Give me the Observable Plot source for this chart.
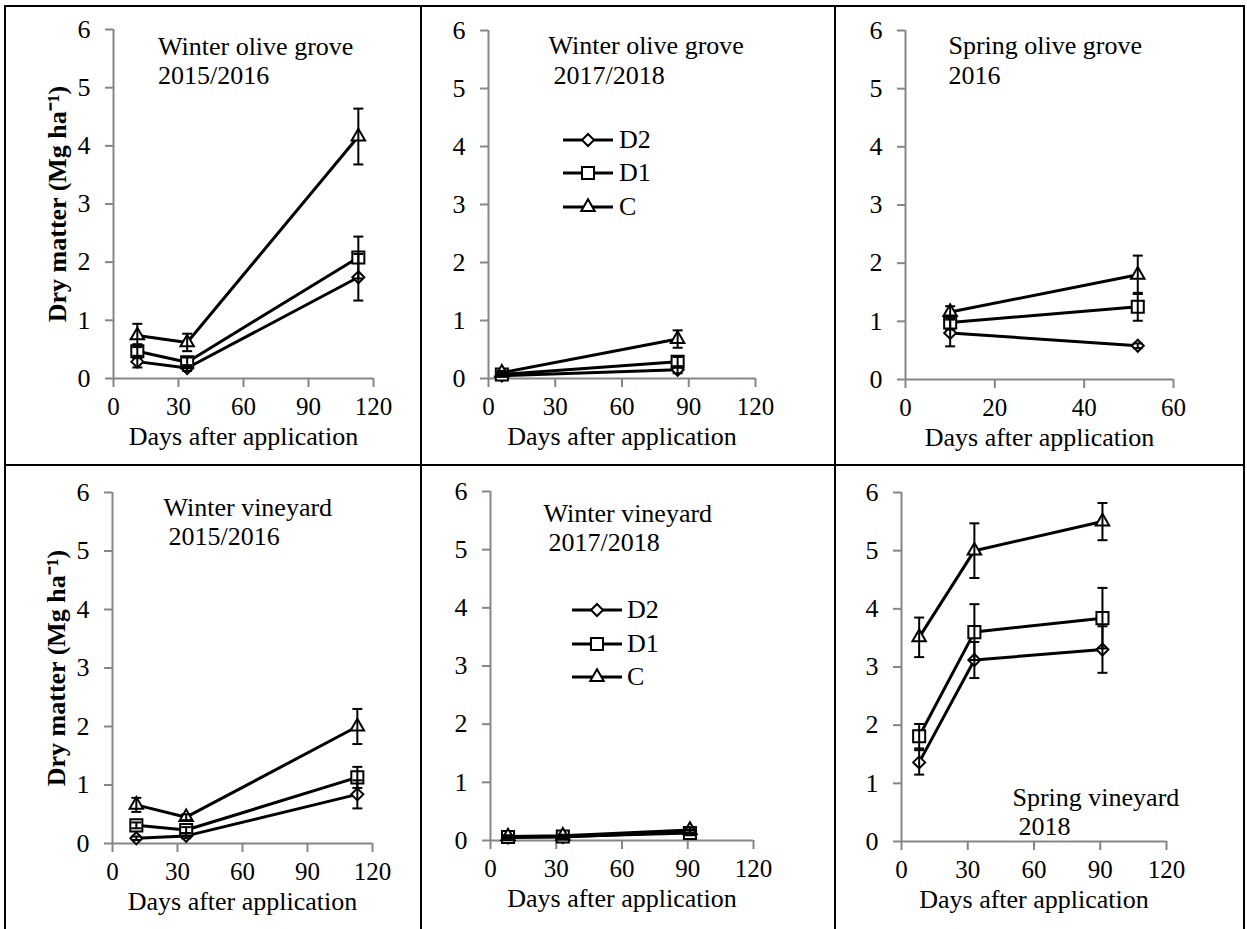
<!DOCTYPE html>
<html>
<head>
<meta charset="utf-8">
<script src="https://cdn.jsdelivr.net/npm/d3@7"></script>
<script src="https://cdn.jsdelivr.net/npm/@observablehq/plot@0.6"></script>
<style>
  html, body { margin: 0; padding: 0; background: #fff; }
  #fig { position: relative; width: 1247px; height: 929px; overflow: hidden; background: #fff; }
  .panel { position: absolute; }
  .bline { position: absolute; background: #000; }
</style>
</head>
<body>
<div id="fig"></div>
<script>
// ---------------- DATA ----------------
const treatments = ["D2", "D1", "C"];
const titleLine1 = ["Winter olive grove", "Winter olive grove", "Spring olive grove", "Winter vineyard", "Winter vineyard", "Spring vineyard"];
const titleLine2 = ["2015/2016", "2017/2018", "2016", "2015/2016", "2017/2018", "2018"];
const days = [[11, 34, 113], [6, 85], [10, 52], [11, 34, 113], [8, 33, 91], [8, 33, 91]];
const xTicks = [[0, 30, 60, 90, 120], [0, 30, 60, 90, 120], [0, 20, 40, 60], [0, 30, 60, 90, 120], [0, 30, 60, 90, 120], [0, 30, 60, 90, 120]];
const yTicks = [0, 1, 2, 3, 4, 5, 6];
const dryC  = [[0.74, 0.62, 4.16], [0.10, 0.68], [1.16, 1.80], [0.66, 0.45, 2.00], [0.07, 0.08, 0.18], [3.51, 5.00, 5.50]];
const errC  = [[0.20, 0.15, 0.48], [0.03, 0.15], [0.10, 0.33], [0.12, 0.05, 0.30], [0.02, 0.02, 0.05], [0.34, 0.47, 0.32]];
const dryD1 = [[0.47, 0.28, 2.08], [0.07, 0.29], [0.98, 1.25], [0.31, 0.23, 1.13], [0.06, 0.07, 0.13], [1.81, 3.60, 3.84]];
const errD1 = [[0.12, 0.08, 0.36], [0.03, 0.08], [0.12, 0.24], [0.05, 0.05, 0.18], [0.02, 0.02, 0.04], [0.21, 0.48, 0.52]];
const dryD2 = [[0.29, 0.18, 1.74], [0.05, 0.15], [0.80, 0.58], [0.09, 0.13, 0.84], [0.05, 0.06, 0.15], [1.36, 3.12, 3.30]];
const errD2 = [[0.10, 0.05, 0.40], [0.02, 0.06], [0.23, 0.04], [0.03, 0.04, 0.24], [0.02, 0.02, 0.04], [0.21, 0.31, 0.40]];
const xLabel = "Days after application";
const yLabel = "Dry matter (Mg ha\u207B\u00B9)";

// ---------------- LAYOUT / STYLE ----------------
const FONT = "'Liberation Serif', 'Times New Roman', serif";
const FS = 26;
const GRAY = "#868686";
const SYM = {D2: "diamond2", D1: "square", C: "triangle"};
const R = {D2: 5.4, D1: 6.8, C: 5.0};
const CAP = {draw(ctx) { ctx.moveTo(-5, 0); ctx.lineTo(5, 0); }};
const ML = 115, MR = 45, MT = 30, MB = 80;
const TXT = {fontFamily: FONT, fontSize: FS, fill: "black"};
// pixel frames: x0 = x of domain min, x1 = x of domain max, yT = y of 6, yB = y of 0
const frames = [
  {x0: 112.5, x1: 372.5, yT: 29, yB: 378, t1: [157, 46], t2: [157, 75], ylab: true},
  {x0: 488, x1: 755, yT: 30, yB: 378, t1: [548, 45], t2: [553, 75], legend: [75, 100, 125, 131, [110, 143, 177]]},
  {x0: 905, x1: 1173, yT: 30, yB: 379, t1: [948, 45], t2: [948, 75]},
  {x0: 112, x1: 372, yT: 492, yB: 843, t1: [163, 507], t2: [168, 536], ylab: true},
  {x0: 490, x1: 753, yT: 491, yB: 840, t1: [543, 513], t2: [548, 542], legend: [82, 107, 132, 137, [119, 153, 186]]},
  {x0: 901, x1: 1166, yT: 492, yB: 841, t1: [1012, 797], t2: [1018, 826]}
];
const borders = [
  {l: 4, t: 5, w: 1241, h: 2}, {l: 4, t: 5, w: 2, h: 924},
  {l: 420, t: 5, w: 2, h: 924}, {l: 834, t: 5, w: 2, h: 924},
  {l: 1243, t: 5, w: 2, h: 924}, {l: 4, t: 464, w: 1241, h: 2}
];

const fig = document.getElementById("fig");
borders.forEach(b => {
  const d = document.createElement("div");
  d.className = "bline";
  Object.assign(d.style, {left: b.l + "px", top: b.t + "px", width: b.w + "px", height: b.h + "px"});
  fig.appendChild(d);
});

const values = {D2: dryD2, D1: dryD1, C: dryC};
const errors = {D2: errD2, D1: errD1, C: errC};

frames.forEach((f, i) => {
  const rows = [];
  treatments.forEach(t => {
    days[i].forEach((d, j) => rows.push({t, day: d, v: values[t][i][j], e: errors[t][i][j]}));
  });
  const W = f.x1 - f.x0 + ML + MR;
  const H = f.yB - f.yT + MT + MB;
  const xt = xTicks[i];
  const marks = [
    Plot.ruleY([0], {stroke: GRAY, strokeWidth: 2}),
    Plot.ruleX([0], {stroke: GRAY, strokeWidth: 2}),
    Plot.axisY({ticks: yTicks, tickSize: 8, tickPadding: 15, color: "black", stroke: GRAY, strokeWidth: 2, label: null, tickFormat: d => String(d), fontFamily: FONT, fontSize: FS, fontVariant: "normal"}),
    Plot.axisX({ticks: xt, tickSize: 9, tickPadding: 10, color: "black", stroke: GRAY, strokeWidth: 2, label: null, tickFormat: d => String(d), fontFamily: FONT, fontSize: 25, fontVariant: "normal"}),
    Plot.line(rows, {x: "day", y: "v", z: "t", stroke: "black", strokeWidth: 3}),
    ...treatments.map(t => Plot.dot(rows.filter(r => r.t === t), {x: "day", y: "v", symbol: SYM[t], r: R[t], fill: "white", stroke: "black", strokeWidth: 2})),
    Plot.link(rows, {x1: "day", x2: "day", y1: r => r.v - r.e, y2: r => r.v + r.e, stroke: "black", strokeWidth: 2}),
    Plot.dot(rows, {x: "day", y: r => r.v + r.e, symbol: CAP, r: 5, fill: "none", stroke: "black", strokeWidth: 2}),
    Plot.dot(rows, {x: "day", y: r => r.v - r.e, symbol: CAP, r: 5, fill: "none", stroke: "black", strokeWidth: 2}),
    Plot.text([xLabel], {...TXT, text: d => d, frameAnchor: "bottom", textAnchor: "middle", lineAnchor: "middle", dy: 58}),
    Plot.text([titleLine1[i]], {...TXT, text: d => d, frameAnchor: "top-left", textAnchor: "start", lineAnchor: "middle", dx: f.t1[0] - f.x0, dy: f.t1[1] - f.yT}),
    Plot.text([titleLine2[i]], {...TXT, text: d => d, frameAnchor: "top-left", textAnchor: "start", lineAnchor: "middle", dx: f.t2[0] - f.x0, dy: f.t2[1] - f.yT})
  ];
  if (f.ylab) {
    marks.push(Plot.text([yLabel], {...TXT, text: d => d, frameAnchor: "left", textAnchor: "middle", lineAnchor: "middle", dx: -56, rotate: -90, fontWeight: "bold"}));
  }
  const svg = Plot.plot({
    width: W, height: H,
    marginLeft: ML, marginRight: MR, marginTop: MT, marginBottom: MB,
    x: {domain: [0, xt[xt.length - 1]]},
    y: {domain: [0, 6]},
    style: {fontFamily: FONT, fontSize: FS + "px", color: "black", background: "transparent", overflow: "visible", maxWidth: "none"},
    marks
  });
  if (f.legend) {
    const [lx1, mx, lx2, tx, ys] = f.legend;
    const g = d3.select(svg).append("g").attr("transform", `translate(${ML},${MT})`);
    treatments.forEach((t, k) => {
      const y = ys[k];
      g.append("line").attr("x1", lx1).attr("x2", lx2).attr("y1", y).attr("y2", y).attr("stroke", "black").attr("stroke-width", 3);
      const symType = {D2: d3.symbolDiamond2, D1: d3.symbolSquare, C: d3.symbolTriangle}[t];
      g.append("path").attr("d", d3.symbol(symType, Math.PI * R[t] * R[t])()).attr("transform", `translate(${mx},${y})`)
        .attr("fill", "white").attr("stroke", "black").attr("stroke-width", 2);
      g.append("text").attr("x", tx).attr("y", y).attr("dy", "0.32em").attr("fill", "black")
        .attr("text-anchor", "start").attr("font-family", FONT).attr("font-size", FS).text(t);
    });
  }
  const div = document.createElement("div");
  div.className = "panel";
  div.style.left = (f.x0 - ML) + "px";
  div.style.top = (f.yT - MT) + "px";
  div.style.width = W + "px";
  div.style.height = H + "px";
  div.appendChild(svg);
  fig.appendChild(div);
});
</script>
</body>
</html>
